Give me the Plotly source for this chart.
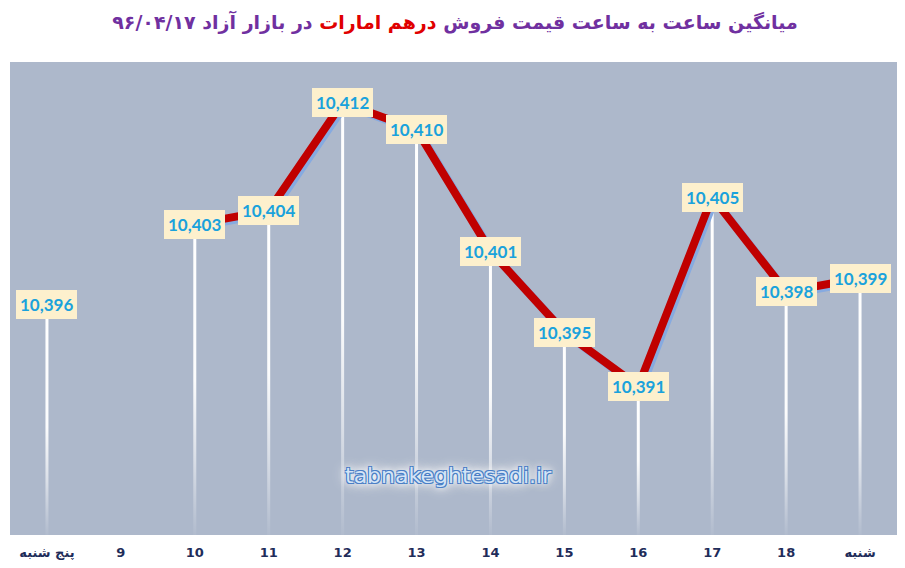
import plotly.graph_objects as go

# categories (hours) and the average selling price of the UAE dirham
hours = ["پنج شنبه", "9", "10", "11", "12", "13", "14", "15", "16", "17", "18", "شنبه"]
prices = [10396, None, 10403, 10404, 10412, 10410, 10401, 10395, 10391, 10405, 10398, 10399]
price_labels = ["10,396", "", "10,403", "10,404", "10,412", "10,410", "10,401",
                "10,395", "10,391", "10,405", "10,398", "10,399"]

y_min, y_max = 10380, 10415
pos = list(range(len(hours)))

# page body has an 8px margin, so the figure is a bit smaller than the window
W, H = 897, 560
plot_w = 887.0
plot_h = 473.0
px_x = plot_w / len(hours)
px_y = plot_h / (y_max - y_min)

fig = go.Figure()

# white drop lines fading towards the axis
half = 1.5 / px_x
for x, p in zip(pos, prices):
    if p is None:
        continue
    fig.add_trace(go.Scatter(
        x=[x - half, x + half, x + half, x - half, x - half],
        y=[y_min, y_min, p, p, y_min],
        mode="none", fill="toself",
        fillgradient=dict(type="vertical",
                          colorscale=[[0, "rgba(255,255,255,0.05)"],
                                      [0.25, "rgba(255,255,255,0.55)"],
                                      [0.5, "rgba(255,255,255,0.95)"],
                                      [1, "rgba(255,255,255,1)"]]),
        hoverinfo="skip", showlegend=False,
    ))

# soft blue shadow of the line, on shifted overlay axes
fig.add_trace(go.Scatter(
    x=pos, y=prices, mode="lines", connectgaps=False,
    line=dict(color="#86aae0", width=8),
    xaxis="x2", yaxis="y2", hoverinfo="skip", showlegend=False,
))

# main red line
fig.add_trace(go.Scatter(
    x=pos, y=prices, mode="lines", connectgaps=False,
    line=dict(color="#c00000", width=8),
    xaxis="x3", yaxis="y3", showlegend=False,
))

# data labels
for i, (p, lab) in enumerate(zip(prices, price_labels)):
    if p is None:
        continue
    fig.add_annotation(
        x=i, y=p, text=f"<b>{lab}</b>", showarrow=False,
        bgcolor="#fdf0cd", borderpad=4, borderwidth=0,
        font=dict(family="Lato, sans-serif", size=17, color="#1aa2dc"),
        yshift=14 if i == 0 else 0,
    )

# watermark
fig.add_annotation(
    x=0.494, y=0.095, xref="paper", yref="paper", showarrow=False,
    text="tabnakeghtesadi.ir",
    font=dict(family="DejaVu Sans, sans-serif", size=22, color="#d4e4f6",
              shadow="1px 1px 0 #4a7fc6, -1px -1px 0 #4a7fc6, 1px -1px 0 #4a7fc6, "
                     "-1px 1px 0 #4a7fc6, 0 0 6px #ffffff, 0 0 10px #ffffff, "
                     "0 0 14px #ffffff, 0 0 18px #ffffff"),
)

title = ("<b>میانگین ساعت به ساعت قیمت فروش "
         "<span style='color:#e00000'>درهم امارات</span>"
         " در بازار آزاد ۹۶/۰۴/۱۷</b>")

x_range = [-0.5, len(hours) - 0.5]
hidden = dict(visible=False, showgrid=False, zeroline=False)

fig.update_layout(
    width=W, height=H,
    margin=dict(l=2, r=8, t=54, b=33),
    paper_bgcolor="white",
    plot_bgcolor="#adb8cb",
    title=dict(text=title, x=447 / W, xanchor="center", y=1 - 14 / H, yanchor="middle",
               font=dict(family="DejaVu Sans, sans-serif", size=19, color="#7030a0")),
    xaxis=dict(
        range=x_range, tickmode="array", tickvals=pos, ticktext=hours,
        showgrid=False, zeroline=False, showline=False,
        ticks="", ticklabelstandoff=8,
        tickfont=dict(family="DejaVu Sans, sans-serif", size=13, color="#1f2d5a", weight="bold"),
    ),
    yaxis=dict(range=[y_min, y_max], showgrid=False, zeroline=False,
               showticklabels=False, ticks=""),
    xaxis2=dict(range=[x_range[0] - 2.5 / px_x, x_range[1] - 2.5 / px_x],
                overlaying="x", **hidden),
    yaxis2=dict(range=[y_min + 2.5 / px_y, y_max + 2.5 / px_y],
                overlaying="y", **hidden),
    xaxis3=dict(range=x_range, overlaying="x", **hidden),
    yaxis3=dict(range=[y_min, y_max], overlaying="y", **hidden),
)

fig.write_html("out.html")
